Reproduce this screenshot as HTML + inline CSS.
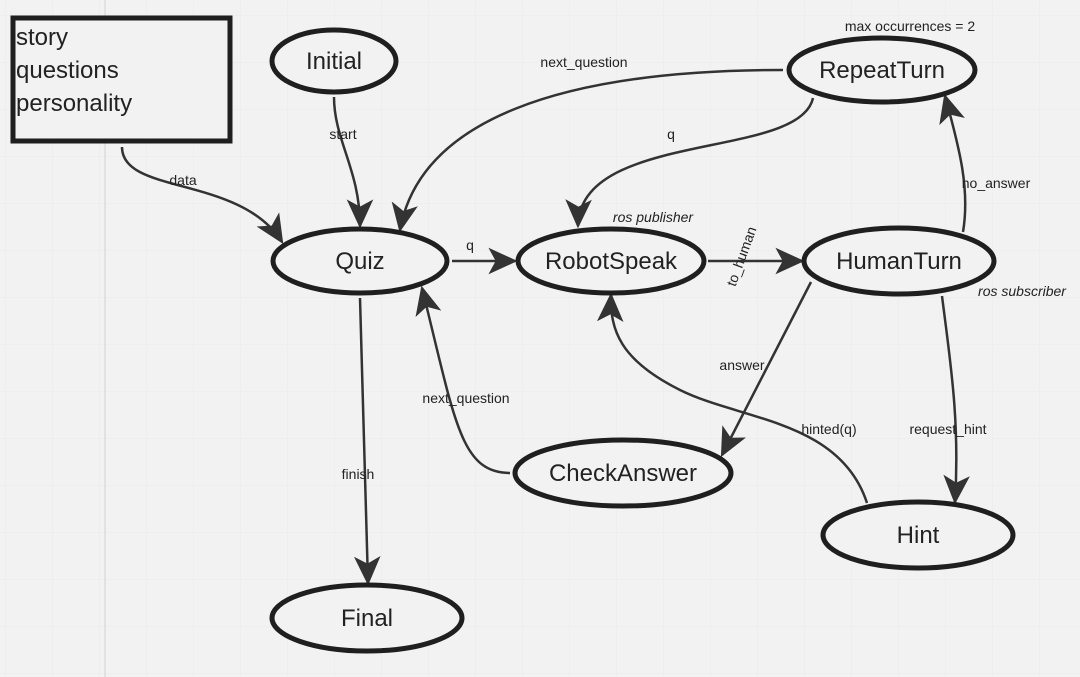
<!DOCTYPE html>
<html><head><meta charset="utf-8"><style>
html,body{margin:0;padding:0;background:#f2f2f2;}
svg{display:block;}
text{font-family:"Liberation Sans","DejaVu Sans",sans-serif;fill:#222;}
</style></head><body>
<svg width="1080" height="677" viewBox="0 0 1080 677" xmlns="http://www.w3.org/2000/svg">
<defs>
<pattern id="g" width="47" height="47" patternUnits="userSpaceOnUse" x="5" y="15">
<path d="M0,0 H47 M0,0 V47" stroke="#ebebeb" stroke-width="1.2" fill="none"/>
</pattern>
<marker id="ah" viewBox="0 0 24 24" refX="22" refY="12" markerWidth="29" markerHeight="29" orient="auto" markerUnits="userSpaceOnUse">
<path d="M0,1 L24,12 L0,23 L6,12 z" fill="#333"/>
</marker>
</defs>
<rect width="1080" height="677" fill="url(#g)"/>
<line x1="105" y1="0" x2="105" y2="677" stroke="#e2e2e2" stroke-width="2"/>

<g fill="none" stroke="#333" stroke-width="2.5" marker-end="url(#ah)">
<path d="M122,147 C122,195 240,175 282,242"/>
<path d="M334,97 C334,140 360,170 360,226"/>
<path d="M783,70 C560,70 420,120 400,230"/>
<path d="M813,98 C800,160 580,130 578,226"/>
<path d="M452,261 L515,261"/>
<path d="M708,261 L802,261"/>
<path d="M963,232 C970,190 960,150 945,96"/>
<path d="M811,282 L722,455"/>
<path d="M942,296 C950,360 960,420 955,502"/>
<path d="M867,503 C840,420 740,420 680,390 C620,360 610,330 611,295"/>
<path d="M510,473 C460,473 455,420 422,288"/>
<path d="M360,298 L368,583"/>
</g>

<g fill="#f2f2f2" stroke="#1f1f1f" stroke-width="5">
<rect x="13" y="18" width="217" height="123"/>
<ellipse cx="334" cy="61" rx="62" ry="31"/>
<ellipse cx="360" cy="261" rx="87" ry="32"/>
<ellipse cx="611" cy="261" rx="93" ry="32"/>
<ellipse cx="899" cy="261" rx="95" ry="33"/>
<ellipse cx="882" cy="70" rx="93" ry="32"/>
<ellipse cx="623" cy="473" rx="108" ry="33"/>
<ellipse cx="918" cy="535" rx="95" ry="33"/>
<ellipse cx="367" cy="618" rx="95" ry="33"/>
</g>

<g font-size="24">
<text x="16" y="45">story</text>
<text x="16" y="78">questions</text>
<text x="16" y="111">personality</text>
<text x="334" y="69" text-anchor="middle">Initial</text>
<text x="360" y="269" text-anchor="middle">Quiz</text>
<text x="611" y="269" text-anchor="middle">RobotSpeak</text>
<text x="899" y="269" text-anchor="middle">HumanTurn</text>
<text x="882" y="78" text-anchor="middle">RepeatTurn</text>
<text x="623" y="481" text-anchor="middle">CheckAnswer</text>
<text x="918" y="543" text-anchor="middle">Hint</text>
<text x="367" y="626" text-anchor="middle">Final</text>
</g>

<g font-size="14">
<text x="183" y="185" text-anchor="middle">data</text>
<text x="343" y="139" text-anchor="middle">start</text>
<text x="584" y="67" text-anchor="middle">next_question</text>
<text x="671" y="139" text-anchor="middle">q</text>
<text x="470" y="250" text-anchor="middle">q</text>
<text x="910" y="31" text-anchor="middle">max occurrences = 2</text>
<text x="996" y="188" text-anchor="middle">no_answer</text>
<text x="742" y="370" text-anchor="middle">answer</text>
<text x="466" y="403" text-anchor="middle">next_question</text>
<text x="829" y="434" text-anchor="middle">hinted(q)</text>
<text x="948" y="434" text-anchor="middle">request_hint</text>
<text x="358" y="479" text-anchor="middle">finish</text>
<text x="746" y="258" text-anchor="middle" transform="rotate(-70 746 258)">to_human</text>
<text x="653" y="222" text-anchor="middle" font-style="italic">ros publisher</text>
<text x="1022" y="296" text-anchor="middle" font-style="italic">ros subscriber</text>
</g>
</svg>
</body></html>
